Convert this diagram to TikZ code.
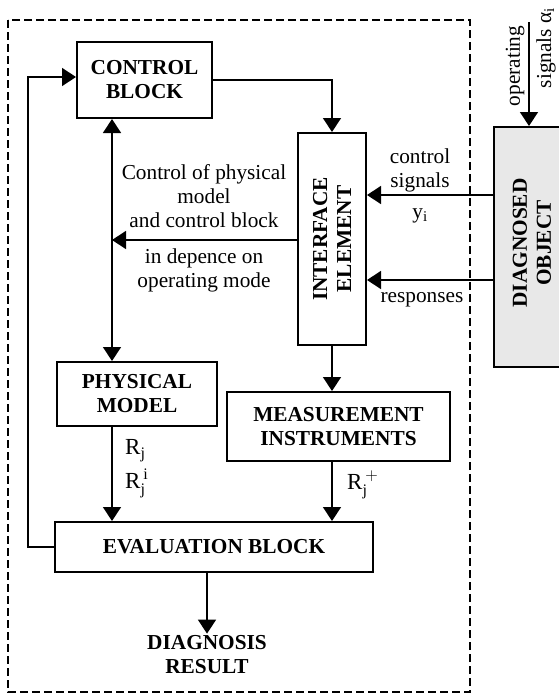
\documentclass[tikz,border=0pt]{standalone}
\usepackage{fontspec}
\setmainfont{Liberation Serif}
\usetikzlibrary{arrows.meta}
\definecolor{objgray}{HTML}{E8E8E8}
\tikzset{
  blk/.style={draw, line width=2pt, align=center, font=\fontsize{21.3}{24}\selectfont\bfseries, inner sep=0pt},
  btxt/.style={align=center, font=\fontsize{21.3}{24}\selectfont\bfseries, inner sep=0pt},
  lbl/.style={align=center, font=\fontsize{21.3}{24}\selectfont, inner sep=0pt},
  rlbl/.style={anchor=west, font=\fontsize{23}{24}\selectfont, inner sep=0pt},
  arr/.style={line width=1.4pt, -{Triangle[length=14pt,width=18pt]}},
  darr/.style={line width=1.4pt, {Triangle[length=14pt,width=18pt]}-{Triangle[length=14pt,width=18pt]}},
  frame/.style={line width=1.3pt, dash pattern=on 8pt off 4pt}
}
\begin{document}
\begin{tikzpicture}[x=1pt,y=-1pt]
\useasboundingbox (0,0) rectangle (558,696);
% dashed frame
\draw[frame] (8,20) rectangle (470,692);
% blocks
\node[blk, minimum width=135pt, minimum height=76pt] (ctrl) at (144.5,80) {CONTROL\\BLOCK};
\node[blk, minimum width=68pt, minimum height=212pt] (iface) at (332,239) {};
\node[btxt, rotate=90] (ifacet) at (iface.center) {INTERFACE\\ELEMENT};
\node[blk, minimum width=160pt, minimum height=64pt] (phys) at (137,394) {PHYSICAL\\MODEL};
\node[blk, minimum width=223pt, minimum height=69pt] (meas) at (338.5,426.5) {MEASUREMENT\\INSTRUMENTS};
\node[blk, minimum width=318pt, minimum height=50pt] (eval) at (214,547) {EVALUATION BLOCK};
\node[blk, fill=objgray, minimum width=80pt, minimum height=240pt] (diag) at (534,247) {};
\node[btxt, rotate=90] (diagt) at (532,243) {DIAGNOSED\\OBJECT};
\node[btxt, inner sep=2pt] (res) at (207,655) {DIAGNOSIS\\RESULT};
% labels
\node[lbl] (t1) at (204,196) {Control of physical\\model\\and control block};
\node[lbl] (t2) at (204,270) {in depence on\\operating mode};
\node[lbl] (t3) at (420,170) {control\\signals};
\node[lbl] (t4) at (420,216) {$\mathrm{y}_{\mathrm{i}}$};
\node[lbl] (t5) at (422,300) {responses};
\node[lbl, rotate=90] (t6) at (515,66) {operating};
\node[lbl, rotate=90] (t7) at (546,48) {signals α$_{\mathrm{i}}$};
\node[rlbl] (t8) at (125,451) {$\mathrm{R}_{\mathrm{j}}$};
\node[rlbl] (t9) at (125,483) {$\mathrm{R}_{\mathrm{j}}^{\,\mathrm{i}}$};
\node[rlbl] (t10) at (347,485) {$\mathrm{R}_{\mathrm{j}}^{\,+}$};
% coordinates
\coordinate (vx) at (112,0);
\coordinate (mid) at (112,240);
\coordinate (cs) at (0,195);
\coordinate (rs) at (0,280);
\coordinate (op) at (529,22);
\coordinate (mx) at (332,0);
\coordinate (fb) at (28,0);
% connectors
\draw[arr] (eval.west) -- (eval.west -| fb) |- ([yshift=3pt]ctrl.west);
\draw[arr] (ctrl.east) -| (iface.north);
\draw[darr] (ctrl.south -| vx) -- (phys.north -| vx);
\draw[arr] (iface.west |- mid) -- (mid);
\draw[arr] (diag.west |- cs) -- (iface.east |- cs);
\draw[arr] (diag.west |- rs) -- (iface.east |- rs);
\draw[arr] (op) -- (op |- diag.north);
\draw[arr] (iface.south -| mx) -- (meas.north -| mx);
\draw[arr] (phys.south -| vx) -- (eval.north -| vx);
\draw[arr] (meas.south -| mx) -- (eval.north -| mx);
\draw[arr] (eval.south -| res.north) -- (res.north);
\end{tikzpicture}
\end{document}
